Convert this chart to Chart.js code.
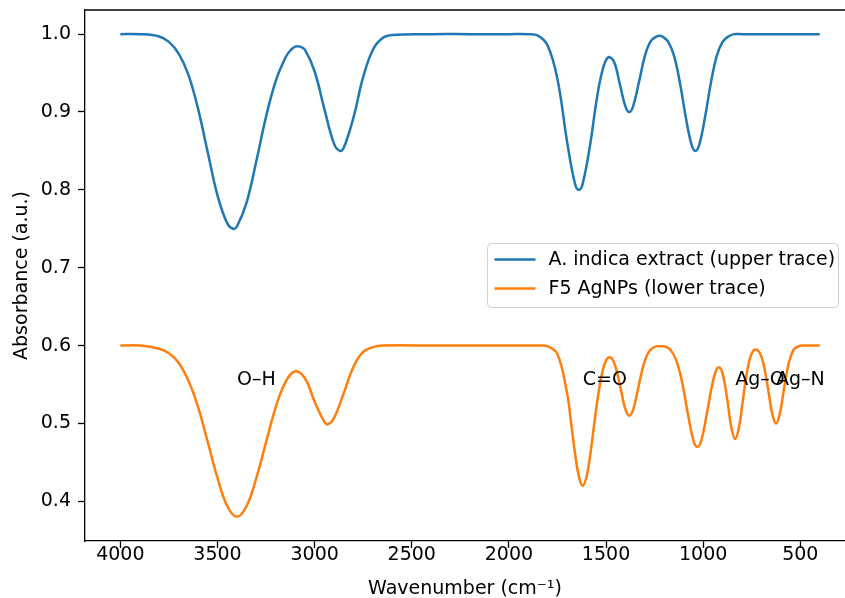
<!DOCTYPE html>
<html>
<head>
<meta charset="utf-8">
<title>FTIR spectra</title>
<script src="https://cdn.jsdelivr.net/npm/chart.js@4.4.1/dist/chart.umd.min.js"></script>
<style>
  html, body { margin: 0; padding: 0; background: #fff; overflow: hidden; }
  #wrap { position: relative; width: 845px; height: 598px; }
</style>
</head>
<body>
<div id="wrap"><canvas id="chart"></canvas></div>
<script>
// Wavenumbers (cm-1) and absorbance for the plant extract
const waveExtract = [4000, 3900, 3800, 3750, 3700, 3650, 3600, 3550, 3500, 3450,
  3420, 3400, 3350, 3300, 3250, 3200, 3150, 3125, 3100, 3075,
  3050, 3000, 2950, 2900, 2870, 2850, 2800, 2750, 2700, 2650,
  2600, 2400, 2200, 2000, 1900, 1850, 1800, 1750, 1700, 1660,
  1640, 1620, 1580, 1550, 1520, 1490, 1460, 1430, 1400, 1380,
  1360, 1330, 1300, 1270, 1240, 1225, 1210, 1180, 1150, 1120,
  1090, 1060, 1040, 1020, 990, 960, 930, 900, 870, 840,
  800, 700, 600, 500, 400];
const absExtract = [1.000, 1.000, 0.997, 0.990, 0.975, 0.948, 0.904, 0.848, 0.793, 0.757,
  0.750, 0.753, 0.784, 0.837, 0.894, 0.940, 0.970, 0.979, 0.984, 0.984,
  0.980, 0.952, 0.904, 0.859, 0.850, 0.854, 0.893, 0.945, 0.980, 0.995,
  0.999, 1.000, 1.000, 1.000, 1.000, 0.998, 0.985, 0.942, 0.861, 0.808,
  0.800, 0.808, 0.861, 0.913, 0.952, 0.970, 0.965, 0.937, 0.907, 0.900,
  0.908, 0.939, 0.972, 0.991, 0.997, 0.998, 0.997, 0.990, 0.972, 0.938,
  0.894, 0.858, 0.850, 0.858, 0.894, 0.938, 0.972, 0.990, 0.997, 1.000,
  1.000, 1.000, 1.000, 1.000, 1.000];

// Wavenumbers (cm-1) and absorbance for the F5 silver nanoparticles
const waveNano = [4000, 3900, 3800, 3750, 3700, 3650, 3600, 3550, 3500, 3450,
  3400, 3350, 3300, 3250, 3200, 3150, 3100, 3050, 3000, 2950,
  2930, 2900, 2850, 2800, 2750, 2700, 2650, 2400, 2200, 2000,
  1900, 1850, 1800, 1750, 1700, 1680, 1660, 1640, 1620, 1600,
  1580, 1560, 1540, 1520, 1500, 1480, 1460, 1440, 1420, 1400,
  1380, 1360, 1340, 1320, 1300, 1280, 1260, 1240, 1220, 1200,
  1170, 1140, 1110, 1080, 1050, 1030, 1010, 980, 950, 930,
  915, 900, 885, 870, 855, 835, 815, 800, 785, 770,
  755, 740, 730, 720, 705, 690, 675, 660, 645, 625,
  605, 590, 575, 560, 545, 530, 510, 490, 400];
const absNano = [0.600, 0.600, 0.596, 0.590, 0.578, 0.555, 0.521, 0.476, 0.430, 0.394,
  0.380, 0.394, 0.430, 0.476, 0.521, 0.553, 0.567, 0.558, 0.528, 0.502,
  0.499, 0.507, 0.539, 0.573, 0.592, 0.598, 0.600, 0.600, 0.600, 0.600,
  0.600, 0.600, 0.599, 0.589, 0.538, 0.501, 0.462, 0.432, 0.420, 0.432,
  0.462, 0.501, 0.537, 0.565, 0.581, 0.585, 0.579, 0.562, 0.539, 0.518,
  0.510, 0.518, 0.539, 0.562, 0.581, 0.592, 0.597, 0.599, 0.599, 0.599,
  0.595, 0.582, 0.555, 0.514, 0.478, 0.470, 0.478, 0.514, 0.554, 0.570,
  0.572, 0.564, 0.545, 0.520, 0.495, 0.480, 0.496, 0.522, 0.549, 0.572,
  0.587, 0.594, 0.595, 0.594, 0.589, 0.577, 0.558, 0.535, 0.513, 0.500,
  0.513, 0.535, 0.558, 0.577, 0.589, 0.596, 0.599, 0.600, 0.600];

const seriesNames = ['A. indica extract (upper trace)', 'F5 AgNPs (lower trace)'];
const seriesColors = ['#1f77b4', '#ff7f0e'];

// Band assignments written next to the lower trace
const bandLabels = ['O\u2013H', 'C=O', 'Ag\u2013O', 'Ag\u2013N'];
const bandWave = [3400, 1620, 835, 625];
const bandAbs = [0.55, 0.55, 0.55, 0.55];

const xTicks = [4000, 3500, 3000, 2500, 2000, 1500, 1000, 500];
const yTicks = [0.4, 0.5, 0.6, 0.7, 0.8, 0.9, 1.0];

const FONT = 'DejaVu Sans, Verdana, sans-serif';
const FS = 19;
const AXIS_W = 1.3;

function toPoints(xs, ys) {
  return xs.map((x, i) => ({ x: x, y: ys[i] }));
}

// Top edge of the frame around the plotting area
const framePlugin = {
  id: 'frame',
  afterDatasetsDraw(chart) {
    const { ctx, chartArea: a } = chart;
    ctx.save();
    ctx.strokeStyle = '#000';
    ctx.lineWidth = AXIS_W;
    ctx.beginPath();
    ctx.moveTo(a.left, a.top);
    ctx.lineTo(a.right, a.top);
    ctx.stroke();
    ctx.restore();
  }
};

// Text labels placed at data coordinates
const bandLabelPlugin = {
  id: 'bandLabels',
  afterDatasetsDraw(chart) {
    const { ctx, scales } = chart;
    ctx.save();
    ctx.font = FS + 'px ' + FONT;
    ctx.fillStyle = '#000';
    ctx.textAlign = 'left';
    ctx.textBaseline = 'alphabetic';
    bandLabels.forEach((t, i) => {
      ctx.fillText(t, scales.x.getPixelForValue(bandWave[i]), scales.y.getPixelForValue(bandAbs[i]));
    });
    ctx.restore();
  }
};

// Boxed legend drawn inside the plotting area
const boxLegendPlugin = {
  id: 'boxLegend',
  afterDraw(chart, args, opts) {
    const { ctx } = chart;
    const x = opts.x, y = opts.y, w = opts.width, h = opts.height, r = 4;
    ctx.save();
    ctx.beginPath();
    ctx.moveTo(x + r, y);
    ctx.lineTo(x + w - r, y);
    ctx.arcTo(x + w, y, x + w, y + r, r);
    ctx.lineTo(x + w, y + h - r);
    ctx.arcTo(x + w, y + h, x + w - r, y + h, r);
    ctx.lineTo(x + r, y + h);
    ctx.arcTo(x, y + h, x, y + h - r, r);
    ctx.lineTo(x, y + r);
    ctx.arcTo(x, y, x + r, y, r);
    ctx.closePath();
    ctx.fillStyle = 'rgba(255,255,255,0.8)';
    ctx.fill();
    ctx.strokeStyle = '#d0d0d0';
    ctx.lineWidth = 1;
    ctx.stroke();

    ctx.font = FS + 'px ' + FONT;
    ctx.textAlign = 'left';
    ctx.textBaseline = 'middle';
    chart.data.datasets.forEach((ds, i) => {
      const yy = y + opts.firstRow + i * opts.rowGap;
      ctx.strokeStyle = ds.borderColor;
      ctx.lineWidth = ds.borderWidth;
      ctx.beginPath();
      ctx.moveTo(x + 7, yy);
      ctx.lineTo(x + 48, yy);
      ctx.stroke();
      ctx.fillStyle = '#000';
      ctx.fillText(ds.label, x + 61, yy + 1);
    });
    ctx.restore();
  }
};

const lineStyle = {
  borderWidth: 2.5,
  pointRadius: 0,
  fill: false,
  tension: 0.4
};

new Chart(document.getElementById('chart'), {
  type: 'line',
  data: {
    datasets: [
      Object.assign({
        label: seriesNames[0],
        data: toPoints(waveExtract, absExtract),
        borderColor: seriesColors[0],
        backgroundColor: seriesColors[0]
      }, lineStyle),
      Object.assign({
        label: seriesNames[1],
        data: toPoints(waveNano, absNano),
        borderColor: seriesColors[1],
        backgroundColor: seriesColors[1]
      }, lineStyle)
    ]
  },
  options: {
    animation: false,
    responsive: true,
    maintainAspectRatio: false,
    devicePixelRatio: 1,
    layout: { padding: { top: 10, right: 0, left: 0, bottom: 0 } },
    events: [],
    plugins: {
      legend: { display: false },
      tooltip: { enabled: false },
      boxLegend: { x: 487.5, y: 243.5, width: 351, height: 64, firstRow: 16, rowGap: 29 }
    },
    scales: {
      x: {
        type: 'linear',
        reverse: true,
        min: 270,
        max: 4182,
        afterBuildTicks(s) { s.ticks = xTicks.map(v => ({ value: v })); },
        afterFit(s) { s.height = 57; s.paddingLeft = 0; s.paddingRight = 0; },
        ticks: {
          autoSkip: false,
          maxRotation: 0,
          padding: -4,
          color: '#000',
          font: { family: FONT, size: FS },
          callback: v => String(v)
        },
        grid: { display: true, drawOnChartArea: false, drawTicks: true, tickLength: 7, tickColor: '#000', tickWidth: AXIS_W },
        border: { display: true, color: '#000', width: AXIS_W },
        title: {
          display: true,
          text: 'Wavenumber (cm\u207B\u00B9)',
          color: '#000',
          font: { family: FONT, size: FS },
          padding: { top: 0, bottom: -2 }
        }
      },
      y: {
        type: 'linear',
        min: 0.349,
        max: 1.031,
        afterBuildTicks(s) { s.ticks = yTicks.map(v => ({ value: v })); },
        afterFit(s) { s.width = 85; s.paddingTop = 0; s.paddingBottom = 0; },
        ticks: {
          padding: 7,
          color: '#000',
          font: { family: FONT, size: FS },
          callback: v => Number(v).toFixed(1)
        },
        grid: { display: true, drawOnChartArea: false, drawTicks: true, tickLength: 7, tickColor: '#000', tickWidth: AXIS_W },
        border: { display: true, color: '#000', width: AXIS_W },
        title: {
          display: true,
          text: 'Absorbance (a.u.)',
          color: '#000',
          font: { family: FONT, size: FS },
          padding: { top: 11, bottom: 0 }
        }
      }
    }
  },
  plugins: [framePlugin, bandLabelPlugin, boxLegendPlugin]
});
</script>
</body>
</html>
